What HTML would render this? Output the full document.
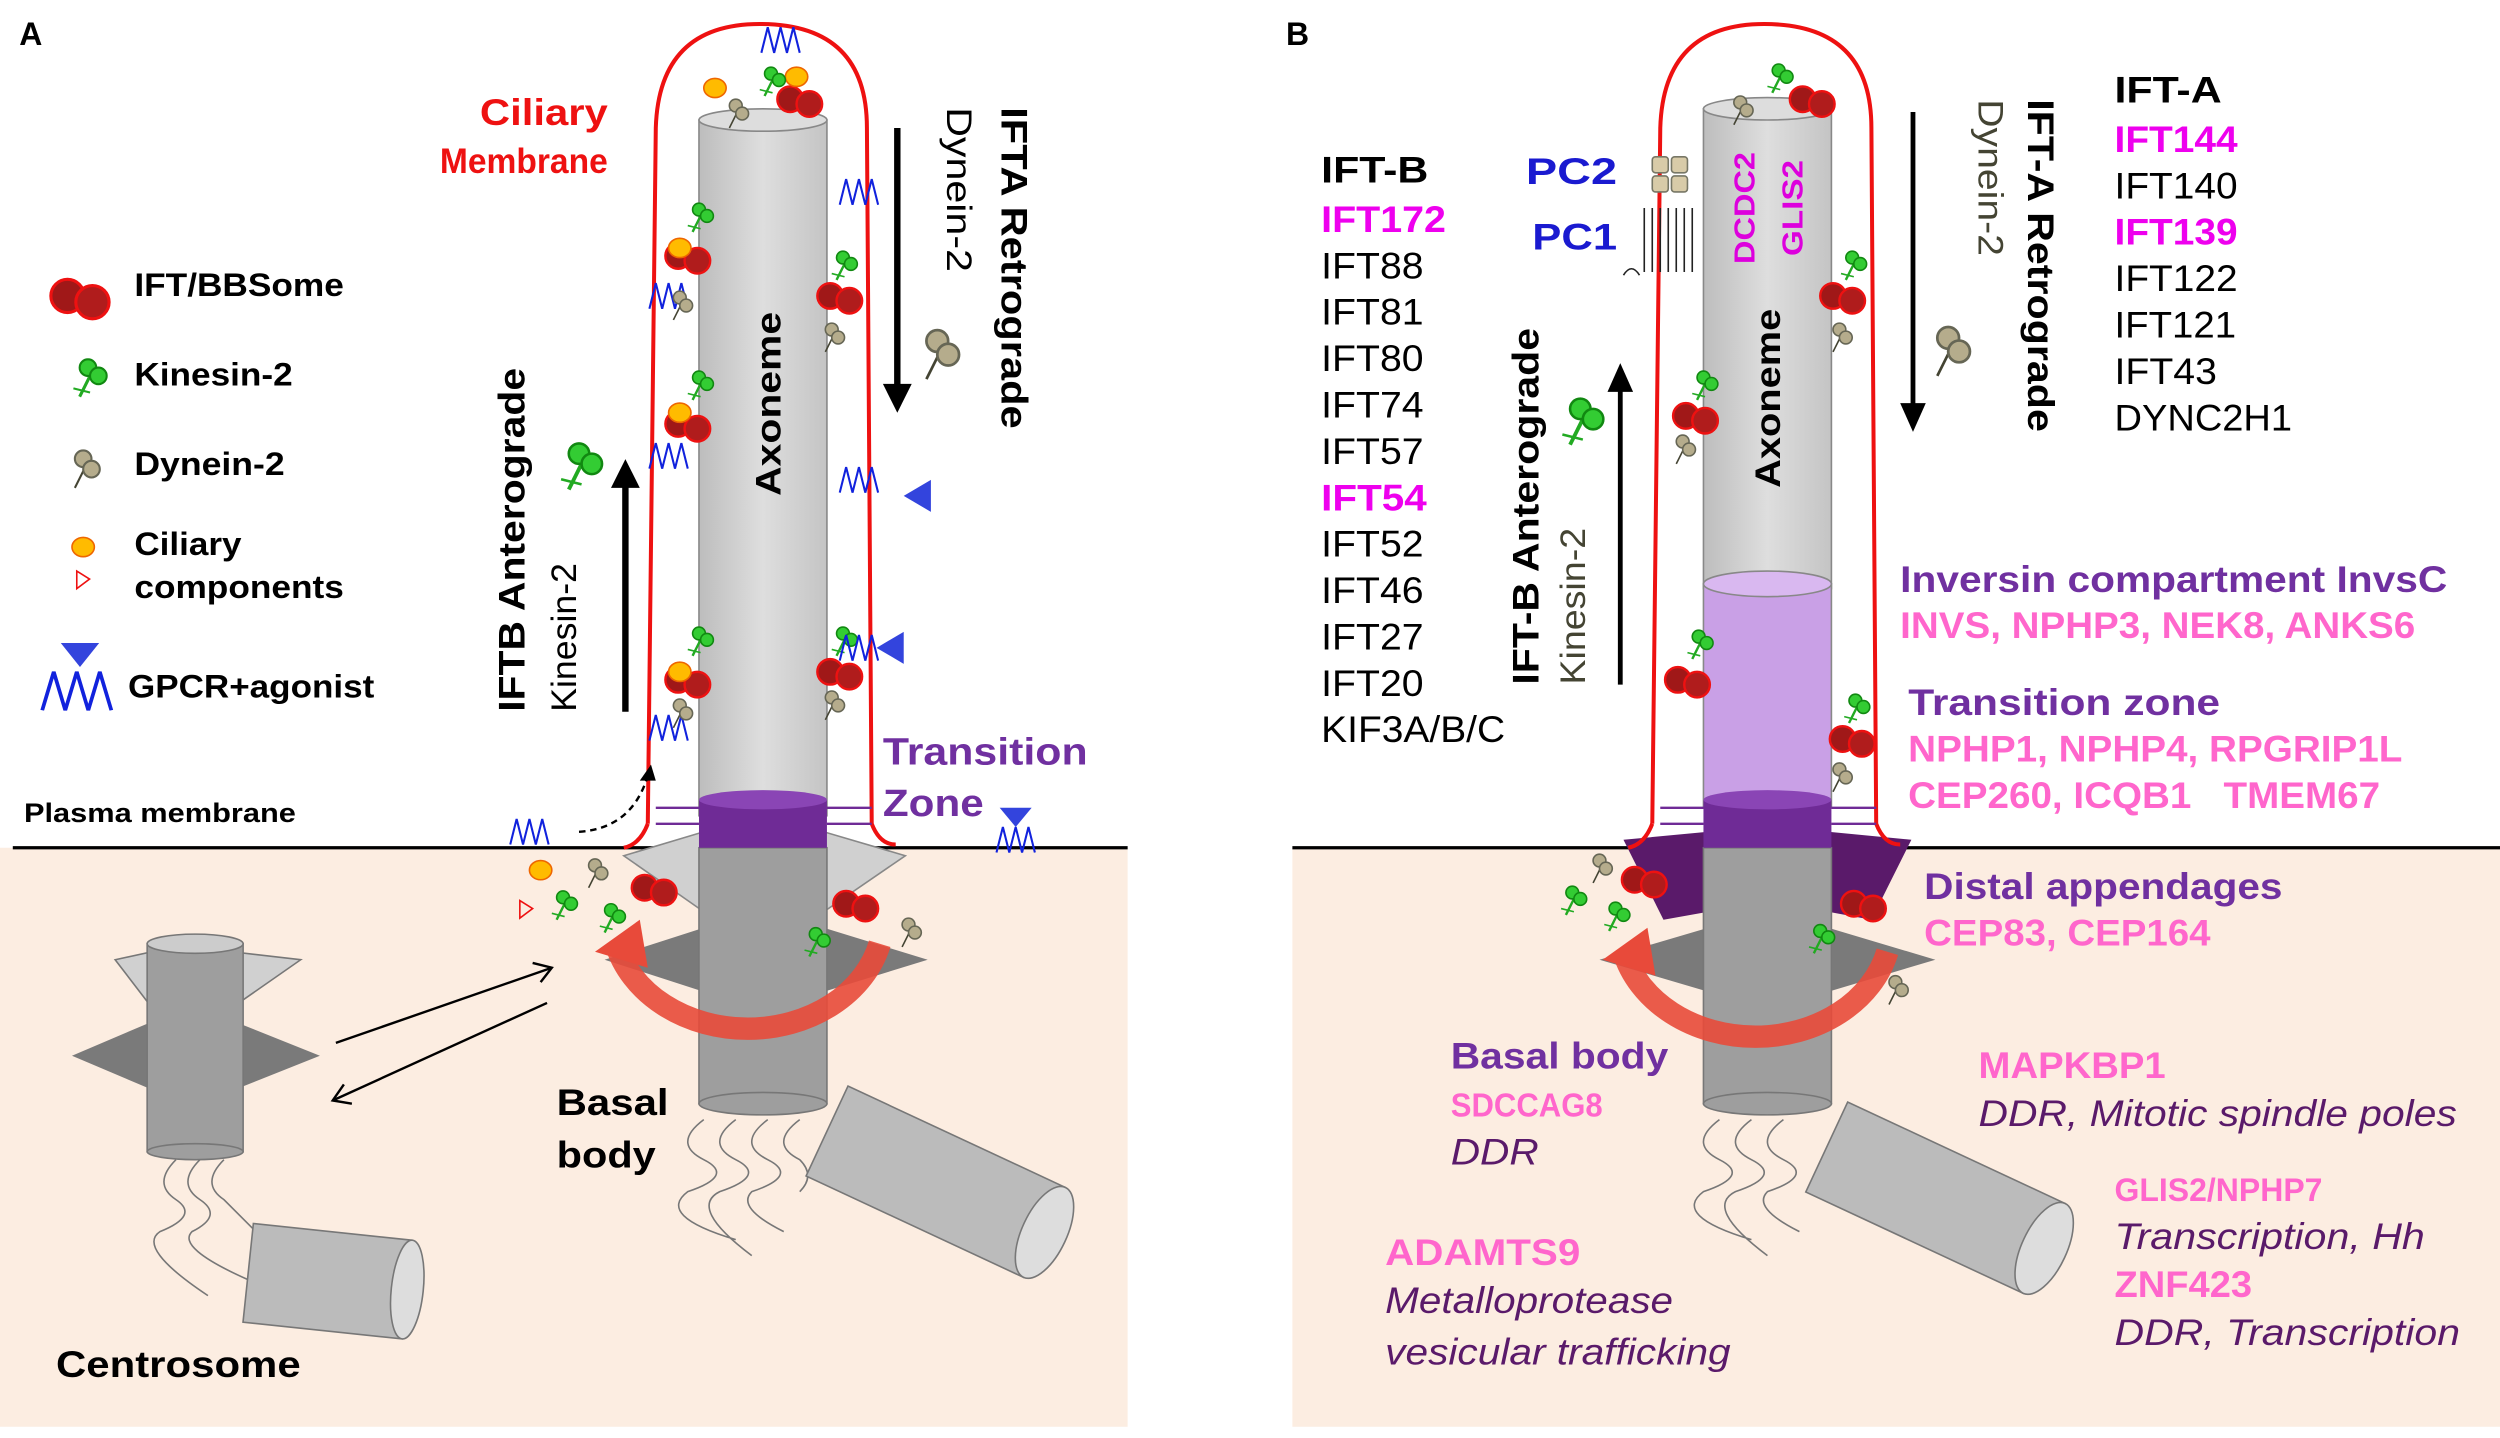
<!DOCTYPE html>
<html><head><meta charset="utf-8"><style>html,body{margin:0;padding:0;background:#fff}svg{display:block}text{font-family:"Liberation Sans",Arial,sans-serif}</style></head><body>
<svg width="2500" height="1438" viewBox="0 0 1563 899" xmlns="http://www.w3.org/2000/svg">
<defs>
<linearGradient id="g1" x1="0" x2="1"><stop offset="0" stop-color="#bdbdbd"/><stop offset=".5" stop-color="#dedede"/><stop offset="1" stop-color="#c4c4c4"/></linearGradient>
<g id="ift"><circle cx="-6" cy="0" r="8" fill="#a01818" stroke="#e11" stroke-width="1.5"/><circle cx="6" cy="3" r="8" fill="#b01c1c" stroke="#e11" stroke-width="1.5"/></g>
<g id="kin"><line x1="-4" y1="10" x2="2" y2="-2" stroke="#2a2" stroke-width="1.5"/><line x1="-7" y1="6" x2="1" y2="8" stroke="#2a2"/><circle cx="0" cy="-4" r="4" fill="#3c3" stroke="#181"/><circle cx="5" cy="0" r="4" fill="#3c3" stroke="#181"/></g>
<g id="dyn"><line x1="-4" y1="10" x2="2" y2="-2" stroke="#443"/><circle cx="0" cy="-4" r="4" fill="#b5ac8c" stroke="#665"/><circle cx="4" cy="1" r="4" fill="#b5ac8c" stroke="#665"/></g>
<g id="gp"><polyline points="-12,8 -8,-8 -4,8 0,-8 4,8 8,-8 12,8" fill="none" stroke="#12d" stroke-width="1.3"/></g>
<g id="orange"><ellipse cx="0" cy="0" rx="7" ry="6" fill="#fb0" stroke="#e60"/></g>
</defs>
<rect x="0" y="530" width="705" height="362" fill="#fcede1"/>
<rect x="808" y="530" width="755" height="362" fill="#fcede1"/>
<line x1="8" y1="530" x2="705" y2="530" stroke="#000" stroke-width="2"/>
<line x1="808" y1="530" x2="1563" y2="530" stroke="#000" stroke-width="2"/>
<text x="12" y="28" font-size="20" font-weight="bold">A</text>
<text x="804" y="28" font-size="20" font-weight="bold">B</text>

<polygon points="378,600 440,580 440,620" fill="#7a7a7a"/><polygon points="580,600 515,580 515,620" fill="#7a7a7a"/>
<polygon points="390,535 440,520 440,570" fill="#d0d0d0" stroke="#888"/><polygon points="566,535 515,520 515,570" fill="#d0d0d0" stroke="#888"/>
<rect x="437" y="530" width="80" height="160" fill="#9e9e9e" stroke="#777"/>
<ellipse cx="477" cy="690" rx="40" ry="7" fill="#9e9e9e" stroke="#777"/>
<path d="M440 700 q-20 15 0 25 q20 10 -10 20 q-20 15 30 30 M460 700 q-20 15 0 25 q20 10 -10 20 q-20 10 20 40 M480 700 q-20 15 0 25 q20 10 -10 20 q-10 10 20 25 M500 700 q-20 15 0 25 q10 10 0 20" fill="none" stroke="#777"/>
<g transform="rotate(25 590 740)"><rect x="510" y="710" width="150" height="62" fill="#bbb" stroke="#777"/><ellipse cx="660" cy="741" rx="14" ry="31" fill="#ddd" stroke="#777"/></g>
<rect x="437" y="75" width="80" height="435" fill="url(#g1)" stroke="#888"/>
<ellipse cx="477" cy="75" rx="40" ry="7" fill="#ddd" stroke="#888"/>
<rect x="437" y="500" width="80" height="30" fill="#6f2b96"/><ellipse cx="477" cy="500" rx="40" ry="6" fill="#8a45b5"/>
<path d="M405,515 L410,80 Q412,15 475,15 Q542,15 542,80 L545,515 Q550,528 560,528" fill="none" stroke="#e11" stroke-width="2.5"/>
<path d="M405,515 Q400,528 390,530" fill="none" stroke="#e11" stroke-width="2.5"/>
<g stroke="#6f2b96" stroke-width="1.5"><line x1="410" y1="505" x2="437" y2="505"/><line x1="410" y1="515" x2="437" y2="515"/><line x1="517" y1="505" x2="545" y2="505"/><line x1="517" y1="515" x2="545" y2="515"/></g>
<path d="M385,590 A85,70 0 0 0 550,590" fill="none" stroke="#e84a3a" stroke-width="14" opacity=".9"/>
<polygon points="372,595 400,575 405,605" fill="#e84a3a"/>
<text transform="translate(488,310) rotate(-90)" font-size="22" font-weight="bold" textLength="115" lengthAdjust="spacingAndGlyphs">Axoneme</text>
<text x="300" y="78" font-size="23" font-weight="bold" fill="#e11" textLength="80" lengthAdjust="spacingAndGlyphs">Ciliary</text>
<text x="275" y="108" font-size="22" font-weight="bold" fill="#e11" textLength="105" lengthAdjust="spacingAndGlyphs">Membrane</text>
<text transform="translate(626,67) rotate(90)" font-size="23" font-weight="bold" textLength="201" lengthAdjust="spacingAndGlyphs">IFTA Retrograde</text>
<text transform="translate(592,67) rotate(90)" font-size="22" textLength="103" lengthAdjust="spacingAndGlyphs">Dynein-2</text>
<line x1="561" y1="80" x2="561" y2="245" stroke="#000" stroke-width="4"/><polygon points="552,240 570,240 561,258" fill="#000"/>
<text transform="translate(328,445) rotate(-90)" font-size="23" font-weight="bold" textLength="215" lengthAdjust="spacingAndGlyphs">IFTB Anterograde</text>
<text transform="translate(360,445) rotate(-90)" font-size="22" textLength="93" lengthAdjust="spacingAndGlyphs">Kinesin-2</text>
<line x1="391" y1="445" x2="391" y2="300" stroke="#000" stroke-width="4"/><polygon points="382,305 400,305 391,287" fill="#000"/>
<text x="552" y="478" font-size="24" font-weight="bold" fill="#7030a0" textLength="128" lengthAdjust="spacingAndGlyphs">Transition</text>
<text x="552" y="510" font-size="24" font-weight="bold" fill="#7030a0" textLength="63" lengthAdjust="spacingAndGlyphs">Zone</text>
<text x="15" y="514" font-size="17" font-weight="bold" textLength="170" lengthAdjust="spacingAndGlyphs">Plasma  membrane</text>
<text x="348" y="697" font-size="23" font-weight="bold" textLength="70" lengthAdjust="spacingAndGlyphs">Basal</text>
<text x="348" y="730" font-size="23" font-weight="bold" textLength="62" lengthAdjust="spacingAndGlyphs">body</text>
<path d="M362,520 Q395,518 405,485" fill="none" stroke="#000" stroke-dasharray="4,3" stroke-width="1.5"/><polygon points="400,488 410,488 407,478" fill="#000"/>
<g transform="translate(50,185) scale(1.3)"><use href="#ift"/></g><text x="84" y="185" font-size="20" font-weight="bold" textLength="131" lengthAdjust="spacingAndGlyphs">IFT/BBSome</text>
<g transform="translate(55,235) scale(1.3)"><use href="#kin"/></g><text x="84" y="241" font-size="20" font-weight="bold" textLength="99" lengthAdjust="spacingAndGlyphs">Kinesin-2</text>
<g transform="translate(52,292) scale(1.3)"><use href="#dyn"/></g><text x="84" y="297" font-size="20" font-weight="bold" textLength="94" lengthAdjust="spacingAndGlyphs">Dynein-2</text>
<use href="#orange" x="52" y="342"/><polygon points="48,357 56,362 48,368" fill="none" stroke="#e11"/>
<text x="84" y="347" font-size="20" font-weight="bold" textLength="67" lengthAdjust="spacingAndGlyphs">Ciliary</text><text x="84" y="374" font-size="20" font-weight="bold" textLength="131" lengthAdjust="spacingAndGlyphs">components</text>
<g transform="translate(48,432) scale(1.8,1.5)"><use href="#gp"/></g><polygon points="38,402 62,402 50,417" fill="#34d"/><text x="80" y="436" font-size="20" font-weight="bold" textLength="154" lengthAdjust="spacingAndGlyphs">GPCR+agonist</text>
<use href="#ift" x="500" y="62"/><use href="#orange" x="447" y="55"/><use href="#orange" x="498" y="48"/><use href="#kin" x="482" y="50"/><use href="#dyn" x="460" y="70"/><use href="#gp" x="488" y="25"/>
<g><use href="#ift" x="430" y="160"/><use href="#orange" x="425" y="155"/><use href="#kin" x="437" y="135"/><use href="#gp" x="418" y="185"/><use href="#dyn" x="425" y="190"/></g>
<g><use href="#ift" x="430" y="265"/><use href="#orange" x="425" y="258"/><use href="#kin" x="437" y="240"/><use href="#gp" x="418" y="285"/></g>
<g><use href="#ift" x="430" y="425"/><use href="#orange" x="425" y="420"/><use href="#kin" x="437" y="400"/><use href="#gp" x="418" y="455"/><use href="#dyn" x="425" y="445"/></g>
<use href="#ift" x="525" y="185"/><use href="#kin" x="527" y="165"/><use href="#dyn" x="520" y="210"/><use href="#gp" x="537" y="120"/>
<use href="#ift" x="525" y="420"/><use href="#kin" x="527" y="400"/><use href="#dyn" x="520" y="440"/><use href="#gp" x="537" y="405"/><polygon points="565,395 565,415 548,405" fill="#34d"/>
<use href="#gp" x="537" y="300"/><polygon points="582,300 582,320 565,310" fill="#34d"/>
<g transform="translate(362,290) scale(1.6)"><use href="#kin"/></g><g transform="translate(586,220) scale(1.7)"><use href="#dyn"/></g>
<use href="#gp" x="331" y="520"/><use href="#orange" x="338" y="544"/><polygon points="325,563 333,568 325,574" fill="none" stroke="#e11"/><use href="#kin" x="352" y="565"/><use href="#kin" x="382" y="573"/><use href="#dyn" x="372" y="545"/><use href="#ift" x="409" y="555"/><use href="#ift" x="535" y="565"/><use href="#kin" x="510" y="588"/><use href="#dyn" x="568" y="582"/>
<use href="#gp" x="635" y="525"/><polygon points="625,505 645,505 635,517" fill="#34d"/>
<polygon points="45,660 92,640 92,680" fill="#7a7a7a"/><polygon points="200,660 150,640 150,680" fill="#7a7a7a"/>
<polygon points="72,600 95,595 95,630" fill="#d0d0d0" stroke="#777"/><polygon points="188,600 145,595 145,630" fill="#d0d0d0" stroke="#777"/>
<rect x="92" y="590" width="60" height="130" fill="#9e9e9e" stroke="#777"/><ellipse cx="122" cy="590" rx="30" ry="6" fill="#ccc" stroke="#777"/><ellipse cx="122" cy="720" rx="30" ry="5" fill="#9e9e9e" stroke="#777"/>
<path d="M110,725 q-15 15 0 25 q15 10 -10 20 q-15 10 30 40 M125,725 q-15 15 0 25 q15 10 -5 20 q-10 10 35 30 M140,725 q-15 15 0 25 q10 10 20 20" fill="none" stroke="#777"/>
<g transform="rotate(6 205 800)"><rect x="155" y="770" width="100" height="62" fill="#bbb" stroke="#777"/><ellipse cx="255" cy="801" rx="10" ry="31" fill="#ddd" stroke="#777"/></g>
<text x="35" y="861" font-size="23" font-weight="bold" textLength="153" lengthAdjust="spacingAndGlyphs">Centrosome</text>
<line x1="210" y1="652" x2="345" y2="605" stroke="#000" stroke-width="1.5"/><polyline points="333,602 345,605 338,614" fill="none" stroke="#000" stroke-width="1.5"/>
<line x1="342" y1="627" x2="208" y2="688" stroke="#000" stroke-width="1.5"/><polyline points="215,678 208,688 220,690" fill="none" stroke="#000" stroke-width="1.5"/>

<polygon points="1000,600 1068,580 1068,620" fill="#7a7a7a"/><polygon points="1210,600 1143,580 1143,620" fill="#7a7a7a"/>
<polygon points="1015,525 1068,520 1068,570 1040,575" fill="#5a1a6a"/><polygon points="1195,525 1143,520 1143,570 1170,575" fill="#5a1a6a"/>
<rect x="1065" y="530" width="80" height="160" fill="#9e9e9e" stroke="#777"/><ellipse cx="1105" cy="690" rx="40" ry="7" fill="#9e9e9e" stroke="#777"/>
<path d="M1075,700 q-20 15 0 25 q20 10 -10 20 q-20 15 30 30 M1095,700 q-20 15 0 25 q20 10 -10 20 q-20 10 20 40 M1115,700 q-20 15 0 25 q20 10 -10 20 q-10 10 20 25" fill="none" stroke="#777"/>
<g transform="rotate(25 1215 750)"><rect x="1135" y="720" width="150" height="62" fill="#bbb" stroke="#777"/><ellipse cx="1285" cy="751" rx="14" ry="31" fill="#ddd" stroke="#777"/></g>
<rect x="1065" y="68" width="80" height="300" fill="url(#g1)" stroke="#888"/><ellipse cx="1105" cy="68" rx="40" ry="7" fill="#ddd" stroke="#888"/>
<rect x="1065" y="365" width="80" height="140" fill="#c9a0e6" stroke="#888"/><ellipse cx="1105" cy="365" rx="40" ry="8" fill="#d9b8f0" stroke="#888"/>
<rect x="1065" y="500" width="80" height="30" fill="#6f2b96"/><ellipse cx="1105" cy="500" rx="40" ry="6" fill="#8a45b5"/>
<path d="M1033,515 L1038,80 Q1040,15 1103,15 Q1170,15 1170,80 L1173,515 Q1178,528 1188,528" fill="none" stroke="#e11" stroke-width="2.5"/>
<path d="M1033,515 Q1028,528 1018,530" fill="none" stroke="#e11" stroke-width="2.5"/>
<g stroke="#6f2b96" stroke-width="1.5"><line x1="1038" y1="505" x2="1065" y2="505"/><line x1="1038" y1="515" x2="1065" y2="515"/><line x1="1145" y1="505" x2="1173" y2="505"/><line x1="1145" y1="515" x2="1173" y2="515"/></g>
<path d="M1015,595 A85,70 0 0 0 1180,595" fill="none" stroke="#e84a3a" stroke-width="14" opacity=".9"/><polygon points="1002,600 1030,580 1035,610" fill="#e84a3a"/>
<text transform="translate(1113,305) rotate(-90)" font-size="22" font-weight="bold" textLength="112" lengthAdjust="spacingAndGlyphs">Axoneme</text>
<text transform="translate(1097,165) rotate(-90)" font-size="18" font-weight="bold" fill="#d0d" textLength="70" lengthAdjust="spacingAndGlyphs">DCDC2</text>
<text transform="translate(1127,160) rotate(-90)" font-size="18" font-weight="bold" fill="#d0d" textLength="60" lengthAdjust="spacingAndGlyphs">GLIS2</text>
<rect x="1033" y="98" width="10" height="10" rx="2" fill="#d8cba8" stroke="#776"/><rect x="1045" y="98" width="10" height="10" rx="2" fill="#d8cba8" stroke="#776"/>
<rect x="1033" y="110" width="10" height="10" rx="2" fill="#d8cba8" stroke="#776"/><rect x="1045" y="110" width="10" height="10" rx="2" fill="#d8cba8" stroke="#776"/>
<path d="M1015,172 q5,-8 10,0 M1028,130 v40 M1033,130 v40 M1038,130 v40 M1043,130 v40 M1048,130 v40 M1053,130 v40 M1058,130 v40" fill="none" stroke="#222"/>
<text x="954" y="115" font-size="23" font-weight="bold" fill="#1a1ad0" textLength="57" lengthAdjust="spacingAndGlyphs">PC2</text>
<text x="958" y="156" font-size="23" font-weight="bold" fill="#1a1ad0" textLength="53" lengthAdjust="spacingAndGlyphs">PC1</text>
<g font-size="23"><text x="826" y="114" font-weight="bold" textLength="67" lengthAdjust="spacingAndGlyphs">IFT-B</text><text x="826" y="145" fill="#e0e" font-weight="bold" textLength="78" lengthAdjust="spacingAndGlyphs">IFT172</text><text x="826" y="174" textLength="64" lengthAdjust="spacingAndGlyphs">IFT88</text><text x="826" y="203" textLength="64" lengthAdjust="spacingAndGlyphs">IFT81</text><text x="826" y="232" textLength="64" lengthAdjust="spacingAndGlyphs">IFT80</text><text x="826" y="261" textLength="64" lengthAdjust="spacingAndGlyphs">IFT74</text><text x="826" y="290" textLength="64" lengthAdjust="spacingAndGlyphs">IFT57</text><text x="826" y="319" fill="#e0e" font-weight="bold" textLength="66" lengthAdjust="spacingAndGlyphs">IFT54</text><text x="826" y="348" textLength="64" lengthAdjust="spacingAndGlyphs">IFT52</text><text x="826" y="377" textLength="64" lengthAdjust="spacingAndGlyphs">IFT46</text><text x="826" y="406" textLength="64" lengthAdjust="spacingAndGlyphs">IFT27</text><text x="826" y="435" textLength="64" lengthAdjust="spacingAndGlyphs">IFT20</text><text x="826" y="464" textLength="115" lengthAdjust="spacingAndGlyphs">KIF3A/B/C</text></g>
<g font-size="23"><text x="1322" y="64" font-weight="bold" textLength="67" lengthAdjust="spacingAndGlyphs">IFT-A</text><text x="1322" y="95" fill="#e0e" font-weight="bold" textLength="77" lengthAdjust="spacingAndGlyphs">IFT144</text><text x="1322" y="124" textLength="77" lengthAdjust="spacingAndGlyphs">IFT140</text><text x="1322" y="153" fill="#e0e" font-weight="bold" textLength="77" lengthAdjust="spacingAndGlyphs">IFT139</text><text x="1322" y="182" textLength="77" lengthAdjust="spacingAndGlyphs">IFT122</text><text x="1322" y="211" textLength="76" lengthAdjust="spacingAndGlyphs">IFT121</text><text x="1322" y="240" textLength="64" lengthAdjust="spacingAndGlyphs">IFT43</text><text x="1322" y="269" textLength="111" lengthAdjust="spacingAndGlyphs">DYNC2H1</text></g>
<text transform="translate(1268,62) rotate(90)" font-size="23" font-weight="bold" textLength="208" lengthAdjust="spacingAndGlyphs">IFT-A Retrograde</text>
<text transform="translate(1237,62) rotate(90)" font-size="22" fill="#443" textLength="98" lengthAdjust="spacingAndGlyphs">Dynein-2</text>
<line x1="1196" y1="70" x2="1196" y2="258" stroke="#000" stroke-width="3"/><polygon points="1188,252 1204,252 1196,270" fill="#000"/>
<text transform="translate(962,428) rotate(-90)" font-size="23" font-weight="bold" textLength="223" lengthAdjust="spacingAndGlyphs">IFT-B Anterograde</text>
<text transform="translate(991,428) rotate(-90)" font-size="22" fill="#443" textLength="98" lengthAdjust="spacingAndGlyphs">Kinesin-2</text>
<line x1="1013" y1="428" x2="1013" y2="240" stroke="#000" stroke-width="3"/><polygon points="1005,245 1021,245 1013,227" fill="#000"/>
<g transform="translate(988,262) scale(1.6)"><use href="#kin"/></g><g transform="translate(1218,218) scale(1.7)"><use href="#dyn"/></g>
<use href="#ift" x="1133" y="62"/><use href="#kin" x="1112" y="48"/><use href="#dyn" x="1088" y="68"/>
<use href="#ift" x="1060" y="260"/><use href="#kin" x="1065" y="240"/><use href="#dyn" x="1052" y="280"/>
<use href="#ift" x="1152" y="185"/><use href="#kin" x="1158" y="165"/><use href="#dyn" x="1150" y="210"/>
<use href="#ift" x="1055" y="425"/><use href="#kin" x="1062" y="402"/><use href="#ift" x="1158" y="462"/><use href="#kin" x="1160" y="442"/><use href="#dyn" x="1150" y="485"/>
<use href="#dyn" x="1000" y="542"/><use href="#ift" x="1028" y="550"/><use href="#kin" x="983" y="562"/><use href="#kin" x="1010" y="572"/><use href="#ift" x="1165" y="565"/><use href="#kin" x="1138" y="586"/><use href="#dyn" x="1185" y="618"/>
<g font-weight="bold" font-size="23">
<text x="1188" y="370" fill="#7030a0" textLength="342" lengthAdjust="spacingAndGlyphs">Inversin compartment InvsC</text>
<text x="1188" y="399" fill="#f6c" textLength="322" lengthAdjust="spacingAndGlyphs">INVS, NPHP3, NEK8, ANKS6</text>
<text x="1193" y="447" fill="#7030a0" textLength="195" lengthAdjust="spacingAndGlyphs">Transition zone</text>
<text x="1193" y="476" fill="#f6c" textLength="309" lengthAdjust="spacingAndGlyphs">NPHP1, NPHP4, RPGRIP1L</text>
<text x="1193" y="505" fill="#f6c" textLength="295" lengthAdjust="spacingAndGlyphs" xml:space="preserve">CEP260, ICQB1   TMEM67</text>
<text x="1203" y="562" fill="#7030a0" textLength="224" lengthAdjust="spacingAndGlyphs">Distal appendages</text>
<text x="1203" y="591" fill="#f6c" textLength="179" lengthAdjust="spacingAndGlyphs">CEP83, CEP164</text>
<text x="907" y="668" fill="#7030a0" textLength="136" lengthAdjust="spacingAndGlyphs">Basal body</text>
<text x="907" y="698" fill="#f6c" font-size="21" textLength="95" lengthAdjust="spacingAndGlyphs">SDCCAG8</text>
<text x="1237" y="674" fill="#f6c" textLength="117" lengthAdjust="spacingAndGlyphs">MAPKBP1</text>
<text x="1322" y="751" fill="#f6c" font-size="20" textLength="130" lengthAdjust="spacingAndGlyphs">GLIS2/NPHP7</text>
<text x="1322" y="811" fill="#f6c" textLength="86" lengthAdjust="spacingAndGlyphs">ZNF423</text>
<text x="866" y="791" fill="#f6c" textLength="122" lengthAdjust="spacingAndGlyphs">ADAMTS9</text>
</g>
<g font-style="italic" font-size="23" fill="#5a1a6a">
<text x="907" y="728" textLength="55" lengthAdjust="spacingAndGlyphs">DDR</text>
<text x="1237" y="704" textLength="299" lengthAdjust="spacingAndGlyphs">DDR, Mitotic spindle poles</text>
<text x="1322" y="781" textLength="194" lengthAdjust="spacingAndGlyphs">Transcription, Hh</text>
<text x="1322" y="841" textLength="216" lengthAdjust="spacingAndGlyphs">DDR, Transcription</text>
<text x="866" y="821" textLength="180" lengthAdjust="spacingAndGlyphs">Metalloprotease</text>
<text x="866" y="853" textLength="216" lengthAdjust="spacingAndGlyphs">vesicular trafficking</text>
</g>
</svg>
</body></html>
